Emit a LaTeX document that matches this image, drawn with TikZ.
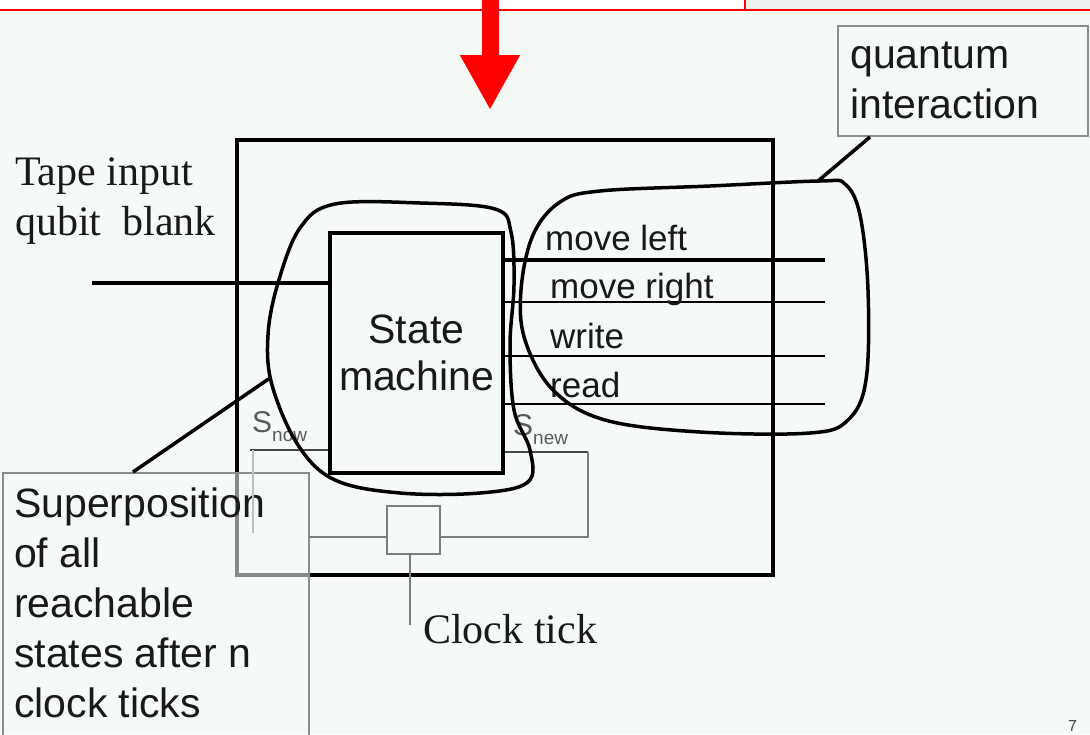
\documentclass[tikz,border=0pt]{standalone}
\usepackage{fontspec}
\setmainfont{Liberation Serif}
\setsansfont{Liberation Sans}
\usetikzlibrary{arrows.meta}
\definecolor{paper}{RGB}{245,250,247}
\definecolor{strip}{RGB}{236,242,238}
\definecolor{wirec}{RGB}{125,125,125}
\definecolor{darkwire}{RGB}{70,70,70}
\definecolor{faintwire}{RGB}{190,190,190}
\definecolor{framec}{RGB}{140,140,140}
\definecolor{labelgray}{RGB}{90,90,90}
\definecolor{inkc}{RGB}{25,25,25}
\tikzset{
  heavy/.style={line width=3.5pt, draw=black},
  blob/.style={line width=3.5pt, draw=black, line join=round},
  wire/.style={line width=2pt, draw=wirec},
  callbox/.style={draw=framec, line width=2pt, inner sep=0pt},
  sanslarge/.style={font=\sffamily\fontsize{41}{50}\selectfont, text=inkc, inner sep=0pt},
  sansmid/.style={font=\sffamily\fontsize{35}{40}\selectfont, text=inkc, inner sep=0pt},
  seriflarge/.style={font=\rmfamily\fontsize{42}{50}\selectfont, text=inkc, inner sep=0pt},
  statelbl/.style={font=\sffamily\fontsize{30}{30}\selectfont, text=labelgray, inner sep=0pt, anchor=base west},
}
\newcommand{\substate}[1]{\raisebox{-9pt}{\fontsize{19}{19}\selectfont #1}}
\begin{document}
\begin{tikzpicture}[x=1pt, y=-1pt]
\useasboundingbox (0,0) rectangle (1090,734);
\clip (0,0) rectangle (1090,734);
\fill[paper] (0,0) rectangle (1090,734);

% header strip with the red rule
\fill[white] (0,0) rectangle (745,10);
\fill[strip] (745,0) rectangle (1090,10);
\draw[red, line width=2pt] (0,10) -- (1090,10);
\draw[red, line width=1.5pt] (745,0) -- (745,10);

% red arrow coming down from the previous step
\coordinate (rtop) at (490,0);
\coordinate (rtip) at (490,110);
\draw[red, line width=17pt, -{Triangle[width=56pt,length=55pt]}] (rtop) -- (rtip);

% outer machine frame
\node[draw, line width=3.5pt, minimum width=536pt, minimum height=435pt, inner sep=0pt] (mainbox) at (505,357.5) {};

% superposition callout box (partly veils the frame)
\node[callbox, fill=paper, fill opacity=0.55, minimum width=306pt, minimum height=300pt, anchor=north west] (supbox) at (2,472) {};
\node[sanslarge, align=left, anchor=north west] (suptext) at (14,488) {Superposition\\of all\\reachable\\states after n\\clock ticks};

% quantum interaction callout box
\node[callbox, fill=paper, minimum width=250pt, minimum height=110pt, anchor=north west] (qbox) at (837,25) {};
\node[sanslarge, align=left, anchor=north west] (qtext) at (850,42) {quantum\\interaction};

% state machine
\node[draw, line width=3.5pt, minimum width=173pt, minimum height=240pt, inner sep=0pt, align=center,
      font=\sffamily\fontsize{41}{47}\selectfont, text=inkc] (sm) at (416.5,353) {State\\machine};

% tape input
\node[seriflarge, align=left, anchor=north west] (tape) at (15,157) {Tape input\\qubit\ \ blank};
\coordinate (tin) at (92,283);
\draw[heavy] (tin) -- (sm.west |- tin);

% output control lines
\foreach \i/\yy/\w in {1/260/3.5, 2/302/2.5, 3/356/2.5, 4/404/2.5} {
  \coordinate (out\i) at (825,\yy);
  \draw[line width=\w pt] (sm.east |- out\i) -- (out\i);
}
\node[sansmid, anchor=base west] (lblleft) at (545,250) {move left};
\node[sansmid, anchor=base west] (lblright) at (550,298) {move right};
\node[sansmid, anchor=base west] (lblwrite) at (550,348) {write};
\node[sansmid, anchor=base west] (lblread) at (550,397) {read};

% clock circuitry
\node[draw=wirec, line width=2pt, minimum width=53pt, minimum height=48pt, inner sep=0pt] (clk) at (413.5,530) {};
\coordinate (cr) at (588,537);
\draw[line width=2pt, draw=darkwire] (sm.east |- 0,452) -- (cr |- 0,452);
\draw[wire] (cr |- 0,452) -- (cr) -- (cr -| clk.east);
\coordinate (cl) at (309,537);
\draw[wire] (clk.west |- cl) -- (cl);
\coordinate (tick) at (410,625);
\draw[wire] (clk.south -| tick) -- (tick);
\coordinate (snow) at (250,450);
\draw[line width=2pt, draw=darkwire] (snow) -- (sm.west |- snow);
\coordinate (snowdrop) at (253,533);
\draw[line width=2pt, draw=faintwire] (snowdrop |- snow) -- (snowdrop);
\node[seriflarge, anchor=base west] (ticklbl) at (423,643) {Clock tick};

\node[statelbl] (snowlbl) at (252,432) {S\substate{now}};
\node[statelbl] (snewlbl) at (513,435) {S\substate{new}};

% region reachable by the state machine
\draw[blob] plot[smooth cycle, tension=0.6] coordinates {
  (300,228) (335,204) (420,203) (495,209) (511,232) (514,285) (510,345)
  (514,410) (530,450) (528,482) (480,493) (400,493) (335,480) (298,445)
  (272,385) (268,335) (278,283)};

% region of quantum interaction with the tape
\draw[blob] plot[smooth cycle, tension=0.6] coordinates {
  (600,191) (710,186) (820,181) (845,184) (860,215) (868,290) (866,380)
  (848,420) (810,433) (700,432) (605,420) (553,390) (525,340) (521,290)
  (533,235) (560,202)};

% callout leaders
\coordinate (qtip) at (818,181);
\draw[heavy] ([xshift=33pt]qbox.south west) -- (qtip);
\coordinate (stip) at (270,378);
\draw[heavy] ([xshift=131pt]supbox.north west) -- (stip);

% page number
\node[font=\sffamily\fontsize{16}{16}\selectfont, text=darkwire, anchor=base west, inner sep=0pt] (pagenum) at (1068,731) {7};
\end{tikzpicture}
\end{document}
